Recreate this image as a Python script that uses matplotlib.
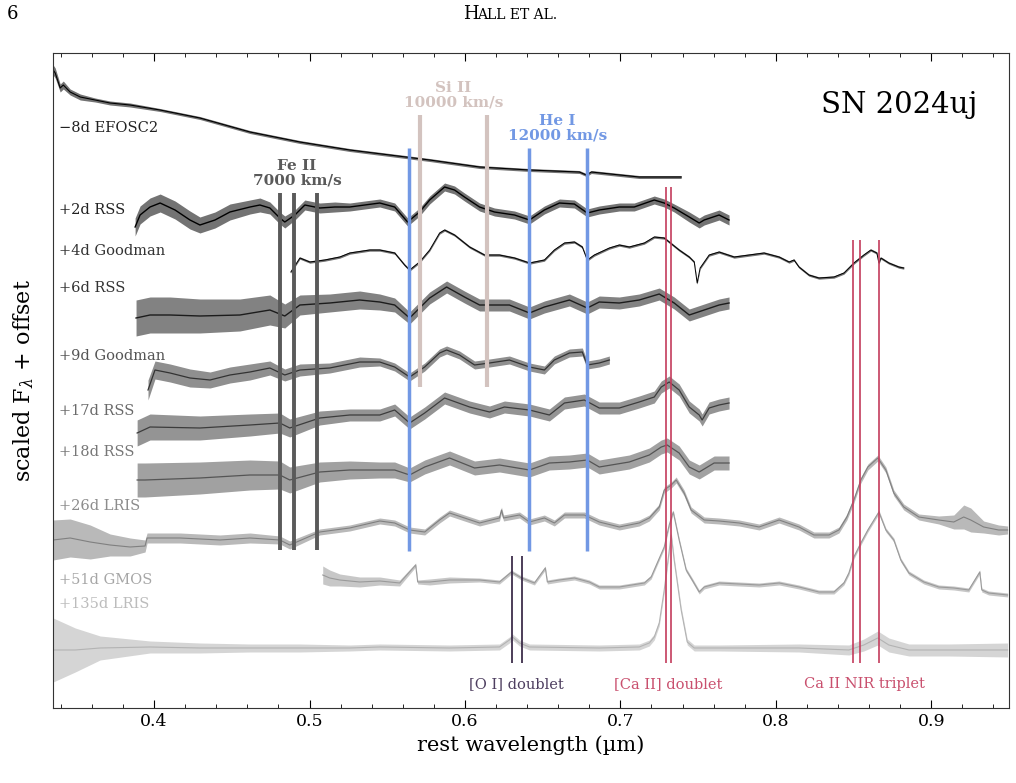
"""Spectral sequence of SN 2024uj with line identifications."""

import matplotlib

matplotlib.use("Agg")
import matplotlib.pyplot as plt
import numpy as np

plt.rcParams["font.family"] = "DejaVu Serif"
plt.rcParams["mathtext.fontset"] = "dejavuserif"

# %% Data — wavelengths in Angstrom, flux already scaled + offset (arbitrary units)
labels = ["\u22128d EFOSC2", "+2d RSS", "+4d Goodman", "+6d RSS", "+9d Goodman",
          "+17d RSS", "+18d RSS", "+26d LRIS", "+51d GMOS", "+135d LRIS"]
label_y = [580, 498, 457, 420, 352, 297, 256, 202, 128, 104]
line_colors = ["#000000", "#000000", "#000000", "#1c1c1c", "#333333",
               "#3c3c3c", "#555555", "#808080", "#9a9a9a", "#b3b3b3"]
text_colors = ["#222222", "#222222", "#333333", "#333333", "#555555",
               "#6a6a6a", "#777777", "#8c8c8c", "#a6a6a6", "#bcbcbc"]
line_widths = [0.8, 1.0, 0.7, 1.0, 0.9, 0.9, 0.9, 0.8, 0.8, 0.8]

wl_m8 = [3351, 3364, 3396, 3416, 3460, 3525, 3621, 3717, 3846, 4039, 4295, 4617,
         4938, 5259, 5516, 5773, 6094, 6415, 6736, 6781, 6813, 7121, 7391]
fl_m8 = [638, 635, 620, 623, 616, 611, 608, 605, 603, 598, 590, 576,
         566, 558, 553, 548, 541, 538, 536, 533, 536, 531, 531]
sc_m8 = [5, 5, 4, 4, 3, 3, 2, 2, 2, 1.5, 1.5, 1.5,
         1.5, 1.5, 1.5, 1.5, 1.5, 1.5, 1.5, 1.5, 1.5, 1.5, 1.5]

wl_p2 = [3878, 3910, 3974, 4039, 4135, 4231, 4295, 4392, 4488, 4617, 4681, 4745,
         4809, 4841, 4906, 4970, 5066, 5163, 5259, 5355, 5452, 5548, 5631, 5708,
         5773, 5869, 5933, 5997, 6094, 6190, 6319, 6415, 6511, 6608, 6704, 6787,
         6864, 6993, 7089, 7218, 7282, 7346, 7443, 7507, 7539, 7635, 7699]
fl_p2 = [481, 493, 501, 505, 498, 488, 483, 488, 496, 501, 503, 500,
         490, 486, 493, 503, 500, 501, 501, 503, 505, 501, 486, 496,
         508, 521, 518, 511, 501, 496, 493, 488, 498, 505, 504, 495,
         498, 501, 501, 508, 505, 500, 491, 485, 488, 493, 488]
sc_p2 = [9, 9, 9, 9, 9, 9, 8, 8, 8, 7, 7, 6,
         6, 6, 5, 5, 5, 5, 4, 4, 4, 4, 4, 4,
         4, 4, 4, 4, 4, 4, 4, 4, 4, 4, 4, 4,
         4, 4, 4, 4, 4, 4, 5, 5, 5, 5, 5]

wl_p4 = [4880, 4938, 5002, 5098, 5195, 5259, 5387, 5452, 5548, 5612, 5644, 5708,
         5773, 5837, 5869, 5933, 6030, 6126, 6222, 6319, 6415, 6511, 6575, 6640,
         6704, 6755, 6787, 6832, 6929, 6993, 7057, 7154, 7218, 7282, 7378, 7443,
         7475, 7494, 7513, 7571, 7635, 7732, 7828, 7924, 8021, 8085, 8117, 8149,
         8213, 8277, 8374, 8438, 8502, 8566, 8611, 8650, 8663, 8676, 8727, 8791, 8823]
fl_p4 = [436, 450, 446, 448, 451, 455, 458, 458, 455, 443, 438, 446,
         458, 475, 478, 473, 461, 453, 453, 450, 445, 448, 458, 465,
         466, 461, 448, 453, 460, 463, 461, 465, 471, 470, 458, 451,
         446, 425, 440, 453, 456, 451, 453, 455, 451, 446, 448, 441,
         433, 430, 431, 435, 445, 453, 458, 455, 445, 450, 445, 441, 440]
sc_p4 = [1.2] * len(wl_p4)

wl_p6 = [3884, 3974, 4103, 4295, 4552, 4745, 4841, 4938, 5130, 5323, 5452, 5548,
         5644, 5773, 5882, 5997, 6094, 6286, 6415, 6511, 6672, 6787, 6864, 6993,
         7121, 7250, 7346, 7443, 7539, 7635, 7699]
fl_p6 = [390, 393, 393, 392, 393, 398, 392, 403, 405, 408, 406, 403,
         390, 410, 421, 411, 403, 403, 395, 401, 408, 400, 406, 405,
         408, 414, 405, 393, 398, 403, 405]
sc_p6 = [18, 18, 18, 17, 16, 15, 12, 10, 9, 9, 8, 7,
         6, 6, 6, 6, 6, 6, 6, 6, 6, 6, 6, 6,
         6, 6, 6, 6, 6, 6, 6]

wl_p9 = [3961, 4006, 4103, 4231, 4360, 4488, 4617, 4745, 4841, 4938, 5130, 5323,
         5452, 5548, 5644, 5741, 5837, 5882, 5965, 6062, 6158, 6286, 6415, 6511,
         6575, 6672, 6755, 6787, 6864, 6929]
fl_p9 = [318, 338, 335, 330, 328, 333, 336, 340, 333, 338, 340, 346,
         346, 341, 331, 341, 355, 358, 353, 343, 345, 348, 341, 338,
         348, 355, 356, 343, 345, 348]
sc_p9 = [10, 9, 9, 9, 8, 8, 8, 7, 6, 6, 5, 5,
         4, 4, 4, 4, 4, 4, 4, 4, 4, 4, 4, 4,
         4, 4, 4, 4, 4, 4]

wl_p17 = [3891, 3974, 4295, 4617, 4809, 4873, 5066, 5259, 5452, 5548, 5644, 5741,
          5869, 6030, 6158, 6254, 6415, 6543, 6640, 6768, 6864, 6993, 7121, 7218,
          7263, 7314, 7378, 7443, 7507, 7526, 7571, 7635, 7699]
fl_p17 = [275, 281, 280, 283, 285, 280, 290, 293, 293, 298, 285, 295,
          310, 301, 296, 301, 298, 293, 305, 308, 300, 300, 306, 311,
          321, 326, 318, 301, 293, 288, 300, 303, 305]
sc_p17 = [13, 13, 12, 11, 10, 9, 7, 6, 6, 6, 6, 6,
          6, 6, 6, 6, 6, 6, 6, 6, 6, 6, 6, 6,
          6, 6, 6, 6, 6, 6, 6, 6, 6]

wl_p18 = [3891, 3942, 4295, 4617, 4809, 4873, 5066, 5259, 5452, 5548, 5644, 5741,
          5901, 6062, 6222, 6415, 6543, 6672, 6787, 6864, 7057, 7186, 7263, 7301,
          7378, 7443, 7507, 7603, 7699]
fl_p18 = [228, 228, 230, 233, 233, 228, 236, 238, 238, 238, 233, 241,
          250, 240, 243, 238, 245, 246, 248, 241, 246, 253, 261, 263,
          255, 241, 236, 245, 245]
sc_p18 = [17, 17, 16, 15, 14, 13, 10, 9, 8, 8, 7, 7,
          7, 7, 7, 7, 7, 7, 7, 7, 7, 7, 7, 7,
          7, 7, 7, 7, 7]

wl_p26 = [3351, 3460, 3589, 3717, 3846, 3942, 3955, 4167, 4424, 4617, 4809, 4873,
          5066, 5259, 5452, 5548, 5644, 5741, 5837, 5901, 5997, 6094, 6222, 6235,
          6248, 6351, 6415, 6511, 6575, 6640, 6768, 6864, 6993, 7121, 7186, 7250,
          7282, 7327, 7359, 7410, 7455, 7539, 7635, 7764, 7892, 8021, 8149, 8245,
          8342, 8406, 8457, 8502, 8547, 8592, 8656, 8708, 8759, 8823, 8920, 9048,
          9145, 9209, 9254, 9337, 9433, 9491]
fl_p26 = [168, 170, 166, 163, 161, 162, 170, 170, 168, 170, 168, 163,
          176, 180, 187, 185, 178, 176, 188, 195, 190, 185, 190, 198,
          190, 193, 186, 190, 185, 193, 193, 186, 181, 185, 190, 201,
          218, 223, 228, 215, 198, 188, 187, 185, 181, 188, 181, 173,
          173, 178, 191, 208, 228, 241, 250, 238, 215, 201, 191, 188,
          186, 191, 188, 181, 178, 178]
sc_p26 = [20, 19, 17, 11, 9, 6, 5, 5, 5, 5, 4, 4,
          3, 3, 3, 3, 3, 3, 3, 3, 3, 3, 3, 3,
          3, 3, 3, 3, 3, 3, 3, 3, 3, 3, 3, 3,
          3, 3, 3, 3, 3, 3, 3, 3, 3, 3, 3, 3,
          3, 3, 3, 3, 3, 3, 3, 3, 3, 3, 3, 4,
          7, 12, 12, 6, 5, 4]

wl_p51 = [5085, 5130, 5195, 5323, 5452, 5580, 5683, 5696, 5773, 5901, 6094, 6222,
          6299, 6364, 6447, 6517, 6530, 6608, 6704, 6800, 6864, 6993, 7154, 7198,
          7237, 7282, 7314, 7340, 7378, 7423, 7462, 7507, 7539, 7635, 7892, 8021,
          8149, 8277, 8374, 8438, 8470, 8502, 8547, 8592, 8663, 8708, 8759, 8804,
          8856, 8952, 9048, 9145, 9241, 9312, 9325, 9369, 9491]
fl_p51 = [133, 130, 128, 126, 127, 125, 143, 126, 126, 128, 128, 126,
          136, 130, 125, 140, 126, 128, 130, 126, 121, 121, 125, 131,
          145, 161, 183, 196, 168, 138, 128, 116, 121, 125, 123, 125,
          121, 116, 116, 125, 135, 151, 165, 178, 196, 178, 168, 148,
          135, 126, 121, 120, 118, 136, 118, 115, 113]
sc_p51 = [9, 8, 6, 5, 4, 3, 2, 2, 3, 3, 2, 2,
          2, 2, 2, 2, 2, 2, 2, 2, 2, 2, 2, 2,
          2, 2, 2, 2, 2, 2, 2, 2, 2, 2, 2, 2,
          2, 2, 2, 2, 2, 2, 2, 2, 2, 2, 2, 2,
          2, 2, 2, 2, 2, 2, 2, 2, 2]

wl_p135 = [3351, 3493, 3653, 3974, 4295, 4617, 4938, 5259, 5452, 5901, 6222, 6286,
           6306, 6351, 6415, 6864, 7121, 7186, 7218, 7250, 7282, 7327, 7346, 7391,
           7430, 7475, 7635, 8149, 8470, 8566, 8656, 8727, 8856, 9113, 9491]
fl_p135 = [58, 58, 60, 61, 60, 60, 60, 60, 61, 60, 61, 68,
           71, 65, 61, 60, 61, 65, 71, 85, 118, 173, 148, 98,
           66, 60, 60, 60, 58, 63, 70, 63, 58, 58, 58]
sc_p135 = [32, 22, 12, 6, 5, 4, 4, 3, 3, 3, 3, 3,
           3, 3, 3, 3, 3, 3, 3, 3, 3, 3, 3, 3,
           3, 3, 3, 4, 5, 6, 7, 7, 6, 6, 7]

spectra_wl = [wl_m8, wl_p2, wl_p4, wl_p6, wl_p9, wl_p17, wl_p18, wl_p26, wl_p51, wl_p135]
spectra_fl = [fl_m8, fl_p2, fl_p4, fl_p6, fl_p9, fl_p17, fl_p18, fl_p26, fl_p51, fl_p135]
spectra_sc = [sc_m8, sc_p2, sc_p4, sc_p6, sc_p9, sc_p17, sc_p18, sc_p26, sc_p51, sc_p135]

# absorption features: rest wavelengths (A) and velocity (km/s)
feii_rest = [4924, 5018, 5169]
feii_vel = 7000
sii_rest = [5905, 6355]
sii_vel = 10000
hei_rest = [5876, 6678, 7065]
hei_vel = 12000
# emission features (rest frame)
oi_rest = [6300, 6364]
caii_rest = [7291, 7324]
cant_rest = [8498, 8542, 8662]

C_KMS = 299792.458

# %% Figure
fig = plt.figure(figsize=(10.16, 7.83), dpi=100)
ax = fig.add_axes([0.0522, 0.0958, 0.9409, 0.8365])

for wl, fl, sc, col, lw in zip(spectra_wl, spectra_fl, spectra_sc, line_colors, line_widths):
    w = np.array(wl) / 1e4
    f = np.array(fl, dtype=float)
    s = np.array(sc, dtype=float)
    ax.fill_between(w, f - s, f + s, color=col, alpha=0.55, lw=0, zorder=1)
    ax.plot(w, f, color=col, lw=lw, zorder=2)

for lab, y, col in zip(labels, label_y, text_colors):
    ax.text(0.339, y, lab, color=col, fontsize=10.5, va="center", ha="left")


def vlines(rest, vel, color, lw, y0, y1):
    obs = np.array(rest) * (1 - vel / C_KMS) / 1e4
    for w in obs:
        ax.plot([w, w], [y0, y1], color=color, lw=lw, zorder=3, solid_capstyle="butt")
    return obs


obs = vlines(feii_rest, feii_vel, "#5a5a5a", 2.8, 158, 515)
ax.text(obs.mean(), 521, "Fe II\n7000 km/s", color="#5a5a5a", fontsize=11,
        fontweight="bold", ha="center", va="bottom", linespacing=1.0)
obs = vlines(sii_rest, sii_vel, "#d3c3bf", 3.0, 321, 593)
ax.text(obs.mean(), 599, "Si II\n10000 km/s", color="#d3c3bf", fontsize=11,
        fontweight="bold", ha="center", va="bottom", linespacing=1.0)
obs = vlines(hei_rest, hei_vel, "#7298e4", 2.5, 157, 560)
ax.text(obs[1:].mean(), 566, "He I\n12000 km/s", color="#7298e4", fontsize=11,
        fontweight="bold", ha="center", va="bottom", linespacing=1.0)

obs = vlines(oi_rest, 0, "#2e1d3c", 1.2, 45, 152)
ax.text(obs.mean(), 24, "[O I] doublet", color="#4e3f60", fontsize=10.5, ha="center", va="center")
obs = vlines(caii_rest, 0, "#c43c5c", 1.2, 45, 521)
ax.text(obs.mean(), 24, "[Ca II] doublet", color="#c9506e", fontsize=10.5, ha="center", va="center")
obs = vlines(cant_rest, 0, "#c43c5c", 1.2, 45, 468)
ax.text(obs.mean(), 24, "Ca II NIR triplet", color="#c9506e", fontsize=10.5, ha="center", va="center")

ax.text(0.967, 0.92, "SN 2024uj", transform=ax.transAxes, fontsize=21,
        ha="right", va="center")

ax.set_xlim(0.335, 0.95)
ax.set_ylim(0, 655)
ax.set_xticks([0.4, 0.5, 0.6, 0.7, 0.8, 0.9])
ax.set_xticks(np.arange(0.34, 0.951, 0.02), minor=True)
ax.set_yticks([])
ax.tick_params(axis="x", which="both", direction="in", top=True, labelsize=12.5)
ax.tick_params(axis="x", which="major", length=6)
ax.tick_params(axis="x", which="minor", length=3)
for sp in ax.spines.values():
    sp.set_color("#333333")
ax.set_xlabel("rest wavelength (\u00b5m)", fontsize=15, labelpad=4)
ax.set_ylabel(r"scaled F$_\lambda$ + offset", fontsize=16, labelpad=12)

# page header
fig.text(0.007, 0.982, "6", fontsize=13, va="center", ha="left")
fig.text(0.456, 0.982, "H", fontsize=13, va="center", ha="left")
fig.text(0.470, 0.981, "ALL ET AL.", fontsize=10, va="center", ha="left")

fig.savefig("out.png", dpi=100)
